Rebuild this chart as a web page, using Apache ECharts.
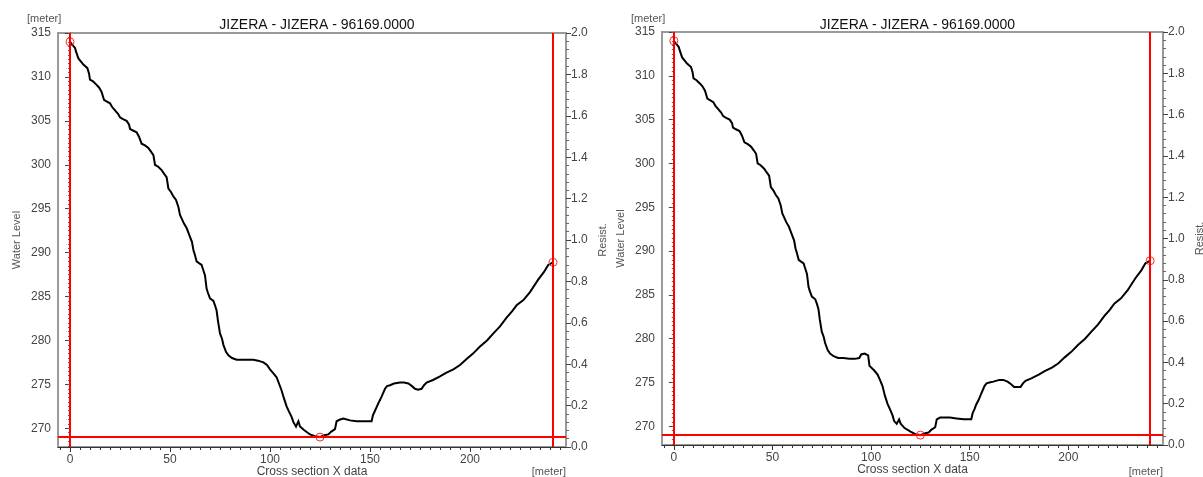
<!DOCTYPE html>
<html>
<head>
<meta charset="utf-8">
<script src="https://cdn.jsdelivr.net/npm/echarts@6/dist/echarts.min.js"></script>
<style>
html,body{margin:0;padding:0;background:#fff;}
#chart{width:1203px;height:477px;}
</style>
</head>
<body>
<div id="chart"></div>
<script>
const chartTitle = 'JIZERA - JIZERA - 96169.0000';
const sectionX = [0, 1, 2.5, 3, 4.2, 5, 6.7, 8.7, 9.5, 10, 11.5, 13.3, 14.5, 15.8, 17, 18.5, 20, 21, 22.5, 24, 25, 26.5, 28.3, 29.5, 30, 31.5, 33.3, 34.5, 35.8, 37.5, 39.2, 40.5, 41.7, 42.5, 44, 45.8, 47, 48.3, 49.2, 50.5, 51.7, 53, 54.2, 55, 55.8, 57, 58.3, 59, 60, 61, 61.7, 62.5, 63.3, 64.5, 65.8, 66.5, 67.5, 68.3, 69, 70, 71.7, 72.5, 73.3, 74, 75, 76, 76.7, 78, 79.2, 81, 83.3, 86, 89, 91.7, 94, 95, 96.7, 98.5, 99.2, 100, 101.5, 103.3, 104.5, 105.8, 107, 108.3, 109.5, 110.8, 111.7, 113, 113.6, 114.2, 115, 117, 120, 122.5, 125, 127, 129.2, 130.5, 132.5, 133.3, 135, 136.7, 140, 143.3, 147, 150.8, 151.5, 152.5, 153.3, 154.5, 155.8, 157.5, 158.5, 160, 162, 165, 167, 169.2, 171, 172.5, 174, 175.8, 177, 178.3, 181.5, 185, 188, 191.7, 195, 198.3, 201.5, 205, 208.5, 211.7, 215, 218.3, 221, 223.3, 226.7, 230, 234, 237, 239.1, 241.5];
const waterLevelLeft = [314.0, 313.7, 313.3, 312.9, 312.1, 311.9, 311.4, 311.0, 310.4, 309.7, 309.5, 309.1, 308.8, 308.3, 307.4, 307.2, 307.0, 306.6, 306.2, 305.8, 305.4, 305.2, 305.0, 304.6, 304.1, 303.9, 303.7, 303.2, 302.4, 302.2, 301.9, 301.5, 301.1, 300.0, 299.8, 299.4, 299.0, 298.6, 297.3, 296.9, 296.4, 296.0, 295.2, 294.3, 293.9, 293.3, 292.8, 292.4, 291.8, 291.2, 290.3, 289.7, 289.0, 288.8, 288.6, 288.1, 287.4, 285.9, 285.4, 284.8, 284.5, 284.0, 283.4, 282.2, 280.8, 280.2, 279.5, 278.7, 278.3, 278.0, 277.8, 277.8, 277.8, 277.8, 277.7, 277.6, 277.5, 277.2, 277.0, 276.7, 276.3, 275.8, 275.1, 274.3, 273.4, 272.5, 271.9, 271.3, 270.7, 270.2, 270.3, 270.8, 270.2, 269.8, 269.3, 269.1, 269.0, 269.2, 269.3, 269.6, 269.9, 270.8, 271.0, 271.1, 270.9, 270.8, 270.8, 270.8, 271.5, 272.0, 272.4, 273.0, 273.6, 274.5, 274.8, 274.9, 275.1, 275.2, 275.2, 275.1, 274.8, 274.5, 274.4, 274.5, 274.9, 275.2, 275.5, 275.9, 276.3, 276.7, 277.2, 277.9, 278.5, 279.3, 280.0, 280.8, 281.6, 282.6, 283.3, 284.0, 284.6, 285.5, 286.9, 287.8, 288.6, 288.9];
const waterLevelRight = [314.0, 313.7, 313.3, 312.9, 312.1, 311.9, 311.4, 311.0, 310.4, 309.7, 309.5, 309.1, 308.8, 308.3, 307.4, 307.2, 307.0, 306.6, 306.2, 305.8, 305.4, 305.2, 305.0, 304.6, 304.1, 303.9, 303.7, 303.2, 302.4, 302.2, 301.9, 301.5, 301.1, 300.0, 299.8, 299.4, 299.0, 298.6, 297.3, 296.9, 296.4, 296.0, 295.2, 294.3, 293.9, 293.3, 292.8, 292.4, 291.8, 291.2, 290.3, 289.7, 289.0, 288.8, 288.6, 288.1, 287.4, 285.9, 285.4, 284.8, 284.5, 284.0, 283.4, 282.2, 280.8, 280.2, 279.5, 278.7, 278.3, 278.0, 277.8, 277.8, 277.7, 277.7, 277.8, 278.2, 278.3, 278.1, 276.9, 276.7, 276.4, 275.9, 275.3, 274.6, 273.5, 272.6, 272.0, 271.3, 270.6, 270.3, 270.4, 270.8, 270.3, 269.8, 269.4, 269.1, 269.0, 269.2, 269.3, 269.6, 269.9, 270.8, 271.0, 271.0, 271.0, 270.9, 270.8, 270.8, 271.5, 272.0, 272.5, 273.0, 273.7, 274.6, 274.9, 275.0, 275.1, 275.3, 275.3, 275.1, 274.8, 274.5, 274.5, 274.5, 274.9, 275.2, 275.5, 275.9, 276.3, 276.7, 277.2, 277.9, 278.5, 279.3, 280.0, 280.8, 281.6, 282.6, 283.3, 284.0, 284.6, 285.5, 286.9, 287.8, 288.6, 288.9];
const markerX = [0, 125, 241.5];
const markerZ = [314.0, 269.0, 288.9];
const bankLineX = [0, 241.5];
const bottomLineZ = 269.0;
const yTickLabels = [270, 275, 280, 285, 290, 295, 300, 305, 310, 315];
const xTickLabels = [0, 50, 100, 150, 200];

const FONT = 'Liberation Sans, Arial, sans-serif';
const yMinor = []; for (let v = 268; v <= 315.001; v += 0.5) yMinor.push(+v.toFixed(1));
const xMinor = []; for (let v = -5; v <= 245; v += 5) xMinor.push(v);

const panels = [
  {left: 58, top: 33, width: 508, height: 414, z: waterLevelLeft},
  {left: 662, top: 32, width: 501, height: 413, z: waterLevelRight}
];

const option = {
  animation: false,
  backgroundColor: '#fff',
  title: [], grid: [], xAxis: [], yAxis: [], series: [], graphic: []
};

panels.forEach((p, i) => {
  option.grid.push({left: p.left, top: p.top, width: p.width, height: p.height,
    outerBoundsMode: 'none', containLabel: false,
    show: true, borderColor: '#9a9a9a', borderWidth: 2, backgroundColor: '#fff'});
  const xi = option.xAxis.length;
  option.xAxis.push({
    gridIndex: i, type: 'value', min: -6, max: 248, position: 'bottom',
    name: 'Cross section X data', nameLocation: 'middle', nameGap: 19, nameMoveOverlap: false,
    nameTextStyle: {fontFamily: FONT, fontSize: 12, color: '#444'},
    axisLine: {show: true, onZero: false, lineStyle: {color: '#333', width: 1}},
    axisTick: {show: true, length: 5, customValues: xTickLabels, lineStyle: {color: '#333'}},
    axisLabel: {customValues: xTickLabels, margin: 7, fontFamily: FONT, fontSize: 12, color: '#444'},
    splitLine: {show: false}
  });
  option.xAxis.push({
    gridIndex: i, type: 'value', min: -6, max: 248, position: 'bottom', offset: 0,
    axisLine: {show: false}, axisLabel: {show: false},
    axisTick: {show: true, length: 3, customValues: xMinor, lineStyle: {color: '#333'}},
    splitLine: {show: false}
  });
  const yi = option.yAxis.length;
  option.yAxis.push({
    gridIndex: i, type: 'value', min: 267.87, max: 315, position: 'left',
    name: 'Water Level', nameLocation: 'middle', nameGap: 36, nameRotate: 90, nameMoveOverlap: false,
    nameTextStyle: {fontFamily: FONT, fontSize: 11, color: '#555'},
    axisLine: {show: true, lineStyle: {color: '#555', width: 1}},
    axisTick: {show: true, length: 5, customValues: yTickLabels, lineStyle: {color: '#444'}},
    axisLabel: {customValues: yTickLabels, margin: 7, fontFamily: FONT, fontSize: 12, color: '#444'},
    splitLine: {show: false}
  });
  option.yAxis.push({
    gridIndex: i, type: 'value', min: 267.87, max: 315, position: 'left', offset: 0,
    axisLine: {show: false}, axisLabel: {show: false},
    axisTick: {show: true, length: 2, customValues: yMinor, lineStyle: {color: '#666'}},
    splitLine: {show: false}
  });
  option.yAxis.push({
    gridIndex: i, type: 'value', min: 0, max: 2, interval: 0.2, position: 'right',
    name: 'Resist.', nameLocation: 'middle', nameGap: 31, nameRotate: 90, nameMoveOverlap: false,
    nameTextStyle: {fontFamily: FONT, fontSize: 11, color: '#555'},
    axisLine: {show: true, lineStyle: {color: '#999', width: 2}},
    axisTick: {show: true, length: 5, lineStyle: {color: '#444'}},
    minorTick: {show: true, splitNumber: 5, length: 3, lineStyle: {color: '#666'}},
    axisLabel: {margin: 5, fontFamily: FONT, fontSize: 12, color: '#444',
      formatter: v => v.toFixed(1)},
    splitLine: {show: false}
  });
  option.title.push({
    text: chartTitle, left: p.left + p.width / 2, top: 13, textAlign: 'center',
    textStyle: {fontFamily: FONT, fontSize: 14, fontWeight: 'normal', color: '#111'}
  });
  option.graphic.push({type: 'text', left: p.left - 31, top: 13,
    style: {text: '[meter]', font: '11px ' + FONT, fill: '#555'}});
  option.graphic.push({type: 'text', right: 1203 - (p.left + p.width), top: 466,
    style: {text: '[meter]', font: '11px ' + FONT, fill: '#555'}});

  option.series.push({
    type: 'line', xAxisIndex: xi, yAxisIndex: yi, showSymbol: false, silent: true,
    data: sectionX.map((x, k) => [x, p.z[k]]),
    lineStyle: {color: '#000', width: 2, join: 'miter'}, z: 3
  });
  option.series.push({
    type: 'scatter', xAxisIndex: xi, yAxisIndex: yi, silent: true,
    symbol: 'circle', symbolSize: 8,
    itemStyle: {color: 'rgba(255,255,255,0)', borderColor: '#ff2a2a', borderWidth: 1, opacity: 1},
    data: markerX.map((x, k) => [x, markerZ[k]]),
    markLine: {
      silent: true, symbol: ['none', 'none'], label: {show: false},
      lineStyle: {color: '#ff0000', width: 2, type: 'solid'},
      data: bankLineX.map(x => ({xAxis: x})).concat([{yAxis: bottomLineZ}])
    },
    z: 4
  });
});

const chart = echarts.init(document.getElementById('chart'), null, {renderer: 'canvas'});
chart.setOption(option);
</script>
</body>
</html>
